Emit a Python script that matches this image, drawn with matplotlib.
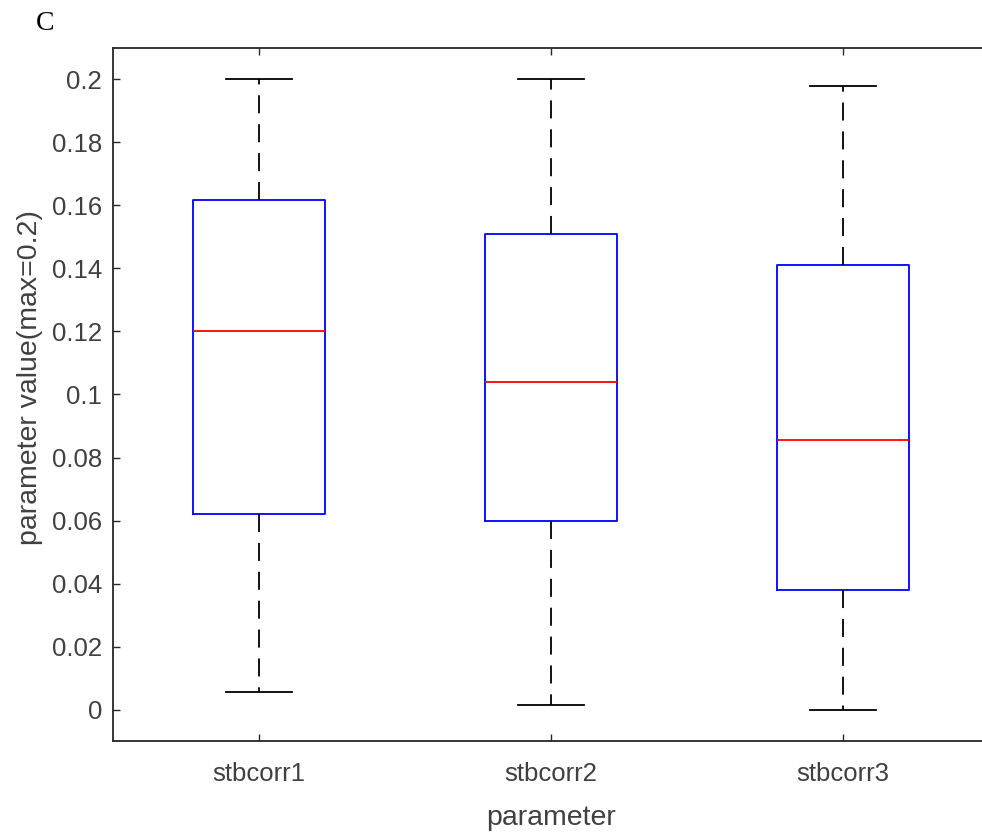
import matplotlib
matplotlib.use("Agg")
import matplotlib.pyplot as plt

categories = ["stbcorr1", "stbcorr2", "stbcorr3"]
whisker_low = [0.0054, 0.0013, 0.0]
q1 = [0.062, 0.0598, 0.038]
median = [0.120, 0.104, 0.0854]
q3 = [0.1617, 0.151, 0.141]
whisker_high = [0.200, 0.200, 0.198]
yticks = [0, 0.02, 0.04, 0.06, 0.08, 0.1, 0.12, 0.14, 0.16, 0.18, 0.2]
ytick_labels = ["0", "0.02", "0.04", "0.06", "0.08", "0.1", "0.12", "0.14", "0.16", "0.18", "0.2"]

plt.rcParams['font.family'] = ['Liberation Sans', 'DejaVu Sans']

fig = plt.figure(figsize=(9.82, 8.32), dpi=100)
ax = fig.add_axes([113/982, 91/832, 876/982, 693/832])

stats = []
for i, name in enumerate(categories):
    stats.append(dict(label=name, whislo=whisker_low[i], q1=q1[i], med=median[i],
                      q3=q3[i], whishi=whisker_high[i], fliers=[]))

ax.bxp(stats, positions=[1, 2, 3], widths=0.45, showfliers=False,
       boxprops=dict(color='#0000ff', linewidth=1.3),
       medianprops=dict(color='#ff0000', linewidth=1.3),
       whiskerprops=dict(color='black', linewidth=1.3, linestyle=(0, (10, 6))),
       capprops=dict(color='black', linewidth=1.3))

ax.set_xlim(0.5, 3.5)
ax.set_ylim(-0.01, 0.21)
ax.set_yticks(yticks)
ax.set_yticklabels(ytick_labels)
ax.set_xticks([1, 2, 3])
ax.set_xticklabels(categories)

gray = '#404040'
ax.tick_params(axis='both', direction='in', length=5, width=1.0, labelsize=18.5,
               labelcolor=gray, color='#262626', pad=8)
ax.tick_params(axis='x', top=True, pad=15)
ax.tick_params(axis='y', right=True)
for s in ax.spines.values():
    s.set_color('#262626')
    s.set_linewidth(1.3)

ax.set_xlabel("parameter", fontsize=20.5, color=gray, labelpad=14)
ax.set_ylabel("parameter value(max=0.2)", fontsize=20.5, color=gray, labelpad=6)
ax.yaxis.label.set_y(0.525)

fig.text(45/982, 1 - 24/832, "C", family=['Liberation Serif', 'DejaVu Serif'],
         fontsize=20, ha='center', va='center', color='black')

fig.savefig("out.png", dpi=100)
